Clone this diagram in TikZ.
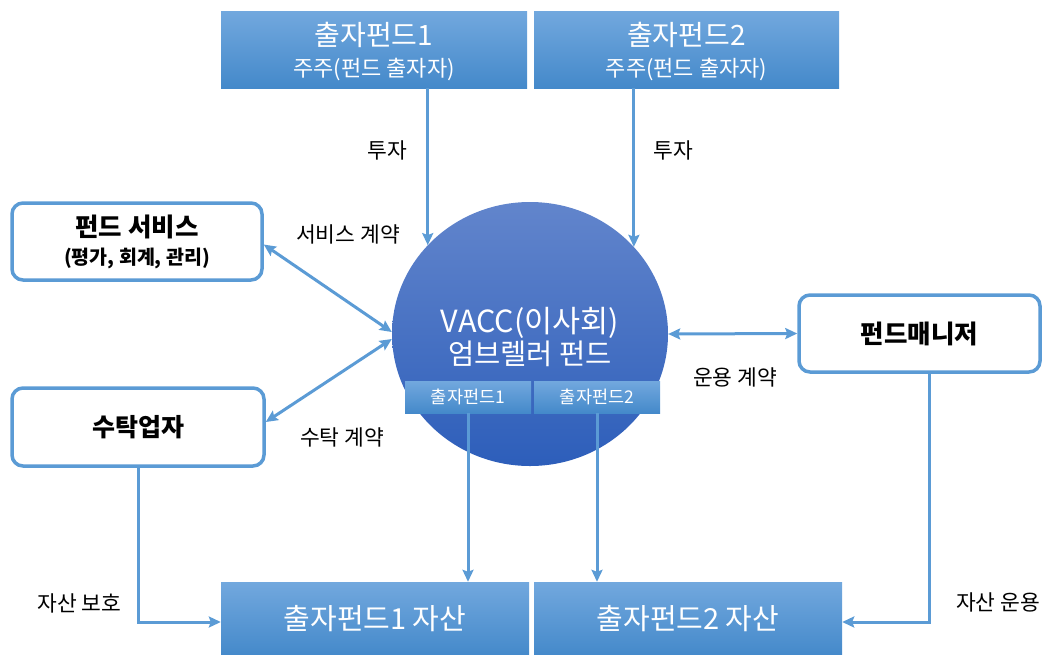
\documentclass[tikz,border=0pt]{standalone}
\usepackage{fontspec}
\setmainfont{Noto Sans CJK KR}
\usetikzlibrary{shapes.geometric,arrows.meta}
\definecolor{lineblue}{RGB}{91,155,213}
\definecolor{boxtop}{RGB}{114,168,222}
\definecolor{boxbot}{RGB}{68,137,202}
\definecolor{circtop}{RGB}{98,133,204}
\definecolor{circbot}{RGB}{45,94,186}
\newcommand{\fsz}[1]{\fontsize{#1}{#1}\selectfont}
\tikzset{
  gradbox/.style={rectangle, draw=none, top color=boxtop, bottom color=boxbot, text=white, align=center, inner sep=0pt},
  wtext/.style={text=white, align=center, inner sep=0pt},
  roundbox/.style={rectangle, rounded corners=11pt, draw=lineblue, line width=3.5pt, fill=white, align=center, inner sep=0pt, font=\bfseries},
  arr/.style={draw=lineblue, line width=3pt, -{Stealth[length=12pt,width=11pt,inset=2pt]}},
  darr/.style={draw=lineblue, line width=3pt, {Stealth[length=12pt,width=11pt,inset=2pt]}-{Stealth[length=12pt,width=11pt,inset=2pt]}},
  lbl/.style={inner sep=0pt, font=\fsz{21.5}, text=black}
}
\begin{document}
\begin{tikzpicture}[x=1pt,y=-1pt]
\useasboundingbox (0,0) rectangle (1043,654);
% top boxes
\node[gradbox, minimum width=306pt, minimum height=77pt] (top1) at (374,49.5) {};
\node[wtext, font=\fontsize{22}{31}\selectfont] (top1t) at (374,52) {{\fsz{28}출자펀드1}\\주주(펀드 출자자)};
\node[gradbox, minimum width=305pt, minimum height=77pt] (top2) at (686.5,49.5) {};
\node[wtext, font=\fontsize{22}{31}\selectfont] (top2t) at (686.5,52) {{\fsz{28}출자펀드2}\\주주(펀드 출자자)};
% central ellipse
\node[ellipse, draw=none, top color=circtop, bottom color=circbot, minimum width=276pt, minimum height=264pt, inner sep=0pt] (vacc) at (530,334) {};
\node[wtext, font=\fontsize{28.5}{32}\selectfont] (vacctxt) at (530,337) {{\fsz{30.5}VACC(이사회)}\\엄브렐러 펀드};
% small boxes
\node[gradbox, minimum width=126pt, minimum height=32pt, font=\fsz{17.5}] (sb1) at (468,397) {출자펀드1};
\node[gradbox, minimum width=126pt, minimum height=32pt, font=\fsz{17.5}] (sb2) at (597,397) {출자펀드2};
% bottom boxes
\node[gradbox, minimum width=308pt, minimum height=74pt, font=\fsz{29}] (bb1) at (375,619) {출자펀드1 자산};
\node[gradbox, minimum width=308pt, minimum height=74pt, font=\fsz{29}] (bb2) at (688,619) {출자펀드2 자산};
% rounded boxes
\node[roundbox, minimum width=250pt, minimum height=77pt, font=\bfseries\fontsize{19.5}{28}\selectfont] (svc) at (137,241.5) {{\fsz{25.5}펀드 서비스}\\(평가, 회계, 관리)};
\node[roundbox, minimum width=252pt, minimum height=78pt, font=\bfseries\fsz{25}] (trust) at (138,427) {수탁업자};
\node[roundbox, minimum width=241pt, minimum height=77pt, font=\bfseries\fsz{25.5}] (mgr) at (919.5,333.5) {펀드매니저};
% connectors
\coordinate (t1end) at (vacc.139.5);
\coordinate (t2end) at (vacc.40.8);
\draw[arr] (t1end |- top1.south) -- (t1end);
\draw[arr] (t2end |- top2.south) -- (t2end);
\draw[darr] ([yshift=-3pt]svc.east) -- ([yshift=2pt]vacc.west);
\draw[darr] ([yshift=5pt]trust.east) -- ([yshift=-5pt]vacc.west);
\draw[darr] (vacc.east) -- (mgr.west);
\draw[arr] (sb1.south) -- (sb1.south |- bb1.north);
\draw[arr] (sb2.south) -- (sb2.south |- bb2.north);
\draw[arr] (trust.south) |- ([yshift=-3pt]bb1.west);
\draw[arr] ([xshift=9.5pt]mgr.south) |- ([yshift=-3pt]bb2.east);
% labels
\node[lbl] (l1) at (387,150) {투자};
\node[lbl] (l2) at (673,150) {투자};
\node[lbl] (l3) at (348,234) {서비스 계약};
\node[lbl] (l4) at (342,437) {수탁 계약};
\node[lbl] (l5) at (735,377) {운용 계약};
\node[lbl] (l6) at (79.5,603) {자산 보호};
\node[lbl] (l7) at (998,602) {자산 운용};
\end{tikzpicture}
\end{document}
